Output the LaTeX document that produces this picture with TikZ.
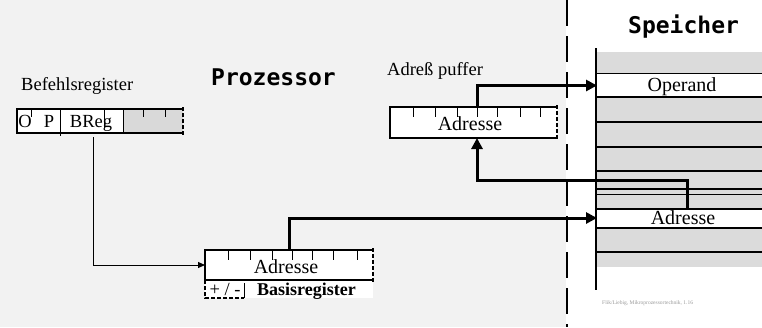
\documentclass[tikz,border=0pt]{standalone}
\usepackage{fontspec}
\setmainfont{Liberation Serif}
\newfontfamily\titlefont{DejaVu Sans Mono}
\usetikzlibrary{arrows.meta}
\begin{document}
\begin{tikzpicture}[x=1pt,y=-1pt,
  lbl/.style={inner sep=0pt, font=\fontsize{18.5}{20}\selectfont},
  rowtxt/.style={inner sep=0pt, font=\fontsize{20}{22}\selectfont},
  ttl/.style={inner sep=0pt, font=\titlefont\bfseries\fontsize{23}{26}\selectfont},
  regbox/.style={inner sep=0pt, outer sep=0pt},
  edge/.style={line width=1.1pt},
  dedge/.style={line width=1.1pt, dash pattern=on 4pt off 2pt},
  regtick/.style={line width=1pt},
  bigarrow/.style={line width=3pt, -{Triangle[length=11pt,width=11pt]}},
  smallarrow/.style={line width=1pt, -{Triangle[length=7pt,width=6pt]}},
  memline/.style={line width=1.8pt},
]
\useasboundingbox (0,0) rectangle (762,327);
% backgrounds
\fill[gray!10] (0,0) rectangle (566,327);
\draw[line width=1.5pt, dash pattern=on 26pt off 10pt] (567,0) -- (567,327);

% titles
\node[ttl, anchor=base west] (proz) at (211,85) {Prozessor};
\node[ttl, anchor=base west] (speich) at (628,33) {Speicher};

% ---------- Befehlsregister ----------
\node[lbl, anchor=base west] (befl) at (21,90) {Befehlsregister};
\fill[white] (17,109) rectangle (123,133);
\fill[gray!30] (123,109) rectangle (183,133);
\node[regbox, minimum width=166pt, minimum height=24pt] (befehl) at (100,121) {};
\draw[edge] (183,109) -- (17,109) -- (17,133) -- (183,133);
\draw[dedge] (183,107) -- (183,135);
\draw[regtick] (31,109) -- (31,117);
\draw[regtick] (60,109) -- (60,136);
\draw[regtick] (104,109) -- (104,128);
\draw[regtick] (123,109) -- (123,133);
\draw[regtick] (143,109) -- (143,117);
\draw[regtick] (165,109) -- (165,117);
\node[lbl, anchor=base] (fo) at (25,127) {O};
\node[lbl, anchor=base] (fp) at (49,127) {P};
\node[regbox, minimum width=63pt, minimum height=24pt] (breg) at (91.5,121) {};
\node[lbl, anchor=base] (bregt) at (91,127) {BReg};

% ---------- Adresspuffer ----------
\node[lbl, anchor=base west] (pufl) at (387,75) {Adreß puffer};
\fill[white] (390,107) rectangle (557,138);
\node[regbox, minimum width=167pt, minimum height=31pt] (puffer) at (473.5,122.5) {};
\draw[edge] (557,107) -- (390,107) -- (390,138) -- (557,138);
\draw[dedge] (557,105) -- (557,140);
\foreach \x in {413,435,457,477,497,520,540} \draw[regtick] (\x,107) -- (\x,117);
\node[rowtxt, anchor=base] (puft) at (470,130) {Adresse};

% ---------- Basisregister ----------
\fill[white] (205,250) rectangle (373,298);
\node[regbox, minimum width=168pt, minimum height=30pt] (basis) at (289,265) {};
\draw[edge] (373,250) -- (205,250) -- (205,280) -- (373,280);
\draw[dedge] (373,248) -- (373,282);
\foreach \x in {228,250,272,292,312,333,357} \draw[regtick] (\x,250) -- (\x,260);
\draw[dedge] (205,280) -- (205,298) -- (244,298);
\draw[regtick] (244,283) -- (244,298);
\node[rowtxt, anchor=base] (bast) at (286,273) {Adresse};
\node[lbl, anchor=base] (pm) at (225,295) {+ / -};
\node[lbl, anchor=base west, font=\bfseries\fontsize{18}{20}\selectfont] (basl) at (257,295) {Basisregister};

% ---------- Speicher ----------
\fill[gray!28] (597,52) rectangle (762,267);
\fill[white] (597,74) rectangle (762,96);
\fill[white] (597,209) rectangle (762,227);
\foreach \y in {73.5,97,122,147,171,189,209,228,252} \draw[memline] (597,\y) -- (762,\y);
\draw[line width=0.6pt] (597,194) -- (762,194);
\draw[line width=1.5pt] (596,48) -- (596,290);
\node[regbox, minimum width=165pt, minimum height=22pt] (operand) at (679.5,85.5) {};
\node[rowtxt, anchor=base] (opt) at (682,91) {Operand};
\node[regbox, minimum width=165pt, minimum height=18pt] (memadr) at (679.5,218) {};
\node[rowtxt, anchor=base] (madt) at (683,224) {Adresse};

\node[inner sep=0pt, text=gray!80, font=\fontsize{5.5}{6}\selectfont, anchor=base west] (quelle) at (602,304) {Flik/Liebig, Mikroprozessortechnik, 1.16};

% ---------- connectors ----------
\draw[smallarrow, shorten <=4pt] (breg.south -| 93,0) |- (basis.west);
\draw[bigarrow] (basis.north) |- (memadr.west);
\draw[bigarrow] ([xshift=3.5pt]puffer.north) |- (operand.west);
\coordinate (turn) at (687,180);
\draw[bigarrow] (turn |- memadr.north) -- (turn) -| ([xshift=3.5pt]puffer.south);
\end{tikzpicture}
\end{document}
